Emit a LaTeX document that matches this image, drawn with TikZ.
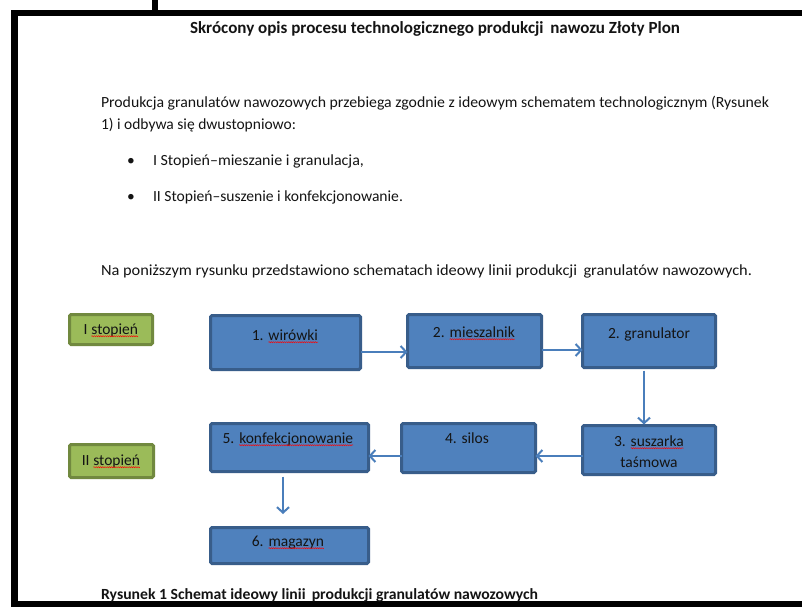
\documentclass[tikz,border=0pt]{standalone}
\usepackage{graphicx}
\usepackage{fontspec}
\setmainfont{Carlito}
\usetikzlibrary{arrows.meta,decorations.pathmorphing,calc}
\definecolor{boxblue}{HTML}{4F81BD}
\definecolor{boxedge}{HTML}{385D8A}
\definecolor{grn}{HTML}{9BBB59}
\definecolor{grnedge}{HTML}{71893F}
\definecolor{arr}{HTML}{4A7EBB}
\definecolor{txt}{HTML}{141414}
\newcommand\sq[1]{\tikz[baseline=(w.base)]{\node[inner sep=0pt,outer sep=0pt,draw=none,fill=none](w){#1};\draw[red,line width=0.45pt,decorate,decoration={snake,amplitude=0.6pt,segment length=2.2pt}]([yshift=-2.2pt]w.base west)--([yshift=-2.2pt]w.base east);}}
\newcommand\fitw[2]{\resizebox{#1}{\height}{#2}}
\begin{document}
\begin{tikzpicture}[x=1pt,y=-1pt,
  every node/.style={inner sep=0pt,outer sep=0pt,text=txt},
  body/.style={font=\fontsize{15.5}{18}\selectfont},
  bbox/.style={draw=boxedge,fill=boxblue,line width=3pt,rounded corners=1.5pt},
  gbox/.style={draw=grnedge,fill=grn,line width=3pt,rounded corners=1.5pt},
  lbl/.style={font=\fontsize{15.5}{18}\selectfont,anchor=base},
  flow/.style={draw=arr,line width=2pt,-{Straight Barb[length=5.5pt,width=12pt]}}]
\useasboundingbox (0,0) rectangle (802,607);
\fill[white] (0,0) rectangle (802,607);
% page frame
\fill[black] (11,10) rectangle (802,16);
\fill[black] (11,10) rectangle (18,607);
\fill[black] (11,601) rectangle (802,607);
\fill[black] (152,0) rectangle (158,10);
% texts
\node[anchor=base west,font=\fontsize{17}{20}\selectfont\bfseries] (title) at (190,34) {\fitw{490pt}{Skrócony opis procesu technologicznego produkcji\, nawozu Złoty Plon}};
\node[body,anchor=base west] (p1) at (101,108) {\fitw{668pt}{Produkcja granulatów nawozowych przebiega zgodnie z ideowym schematem technologicznym (Rysunek}};
\node[body,anchor=base west] (p2) at (101,129) {\fitw{195pt}{1) i odbywa się dwustopniowo:}};
\node[body,anchor=base] (bu1) at (131,165) {•};
\node[body,anchor=base west] (l1) at (153,165) {\fitw{211pt}{I Stopień–mieszanie i granulacja,}};
\node[body,anchor=base] (bu2) at (131,201) {•};
\node[body,anchor=base west] (l2) at (153,201) {\fitw{250pt}{II Stopień–suszenie i konfekcjonowanie.}};
\node[body,anchor=base west] (p3) at (101,275) {\fitw{651pt}{Na poniższym rysunku przedstawiono schematach ideowy linii produkcji\, granulatów nawozowych.}};
% boxes
\node[gbox,minimum width=83pt,minimum height=30pt] (g1) at (111,329.5) {};
\node[gbox,minimum width=84pt,minimum height=33pt] (g2) at (111.5,461) {};
\node[bbox,minimum width=150pt,minimum height=54pt] (b1) at (285.5,342.5) {};
\node[bbox,minimum width=134pt,minimum height=53pt] (b2) at (474.5,341) {};
\node[bbox,minimum width=133pt,minimum height=53pt] (b3) at (649,341) {};
\node[bbox,minimum width=133pt,minimum height=49pt] (b4) at (649,450) {};
\node[bbox,minimum width=134pt,minimum height=49pt] (b5) at (468.5,448) {};
\node[bbox,minimum width=158pt,minimum height=48pt] (b6) at (289.5,447.5) {};
\node[bbox,minimum width=158pt,minimum height=36pt] (b7) at (289.5,545.5) {};
% labels
\node[lbl] (tg1) at (111,334) {I \sq{stopień}};
\node[lbl] (tg2) at (111,465) {II \sq{stopień}};
\node[lbl] (t1) at (285,340) {1. \sq{wirówki}};
\node[lbl] (t2) at (474,337) {2. \sq{mieszalnik}};
\node[lbl] (t3) at (649,338) {2. granulator};
\node[lbl] (t4a) at (649,446) {3. \sq{suszarka}};
\node[lbl] (t4b) at (649,467) {taśmowa};
\node[lbl] (t5) at (467,443) {4. silos};
\node[lbl] (t6) at (288,443) {5. \sq{konfekcjonowanie}};
\node[lbl] (t7) at (288,546) {6. \sq{magazyn}};
% connectors
\draw[flow] ([yshift=-9.5pt]b1.east) -- ([yshift=-9.5pt]b1.east -| b2.west);
\draw[flow] ([yshift=-9pt]b2.east) -- ([yshift=-9pt]b2.east -| b3.west);
\draw[flow] ([xshift=-5pt,yshift=-3pt]b3.south) -- ([xshift=-5pt,yshift=1pt]b4.north);
\draw[flow] ([yshift=-6pt]b4.west) -- ([yshift=-6pt]b4.west -| b5.east);
\draw[flow] ([yshift=-8pt]b5.west) -- ([yshift=-8pt]b5.west -| b6.east);
\draw[flow] ([xshift=-6.5pt,yshift=-5pt]b6.south) -- ([xshift=-6.5pt,yshift=13.5pt]b7.north);
% caption
\node[anchor=base west,font=\fontsize{15.5}{18}\selectfont\bfseries] (cap) at (101,599) {\fitw{437pt}{Rysunek 1 Schemat ideowy linii\, produkcji granulatów nawozowych}};
\end{tikzpicture}
\end{document}
